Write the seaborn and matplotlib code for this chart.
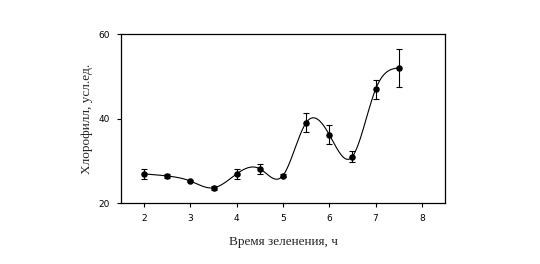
import numpy as np
import pandas as pd
import matplotlib
matplotlib.use("Agg")
import matplotlib.pyplot as plt
import seaborn as sns

hours = [2.0, 2.5, 3.0, 3.5, 4.0, 4.5, 5.0, 5.5, 6.0, 6.5, 7.0, 7.5]
chlorophyll = [26.9, 26.4, 25.2, 23.6, 26.9, 28.1, 26.5, 39.0, 36.2, 31.0, 46.9, 52.0]
errors = [1.1, 0.5, 0.3, 0.5, 1.1, 1.15, 0.4, 2.2, 2.2, 1.2, 2.2, 4.5]
x_ticks = [2, 3, 4, 5, 6, 7, 8]
y_ticks = [20, 40, 60]
x_label = "Время зеленения, ч"
y_label = "Хлорофилл, усл.ед."


def natural_spline(x, y, xs):
    x = np.asarray(x, float); y = np.asarray(y, float)
    n = len(x)
    h = np.diff(x)
    A = np.zeros((n, n)); b = np.zeros(n)
    A[0, 0] = 1; A[-1, -1] = 1
    for i in range(1, n - 1):
        A[i, i - 1] = h[i - 1]
        A[i, i] = 2 * (h[i - 1] + h[i])
        A[i, i + 1] = h[i]
        b[i] = 6 * ((y[i + 1] - y[i]) / h[i] - (y[i] - y[i - 1]) / h[i - 1])
    M = np.linalg.solve(A, b)
    out = np.empty_like(xs)
    for k, t in enumerate(xs):
        i = min(max(np.searchsorted(x, t) - 1, 0), n - 2)
        a = x[i + 1] - t; c = t - x[i]
        out[k] = (M[i] * a**3 + M[i + 1] * c**3) / (6 * h[i]) \
            + (y[i] / h[i] - M[i] * h[i] / 6) * a \
            + (y[i + 1] / h[i] - M[i + 1] * h[i] / 6) * c
    return out


sns.set_style("ticks")
fig = plt.figure(figsize=(5.4, 2.64), dpi=100)
ax = fig.add_axes([0.224, 0.231, 0.600, 0.640])

xs = np.linspace(hours[0], hours[-1], 400)
curve = pd.DataFrame({"x": xs, "y": natural_spline(hours, chlorophyll, xs)})
sns.lineplot(data=curve, x="x", y="y", ax=ax, color="black", linewidth=0.8)

ax.errorbar(hours, chlorophyll, yerr=errors, fmt="none", ecolor="black",
            elinewidth=0.8, capsize=2.5, capthick=0.8)
pts = pd.DataFrame({"x": hours, "y": chlorophyll})
sns.scatterplot(data=pts, x="x", y="y", ax=ax, color="black", s=22,
                edgecolor="black", linewidth=0, zorder=5)

ax.set_xlim(1.5, 8.5)
ax.set_ylim(20, 60)
ax.set_xticks(x_ticks)
ax.set_yticks(y_ticks)
ax.set_xticklabels([str(t) for t in x_ticks], fontsize=6.5, family="DejaVu Sans")
ax.set_yticklabels([str(t) for t in y_ticks], fontsize=6.5, family="DejaVu Sans")
ax.tick_params(direction="out", length=3, width=0.8, colors="black", pad=5)
for s in ax.spines.values():
    s.set_visible(True)
    s.set_linewidth(0.9)
    s.set_color("black")
ax.set_xlabel(x_label, fontsize=9.5, family="Liberation Serif", labelpad=9)
ax.set_ylabel(y_label, fontsize=9.5, family="Liberation Serif", labelpad=4)

fig.savefig("out.png", dpi=100, facecolor="white")
